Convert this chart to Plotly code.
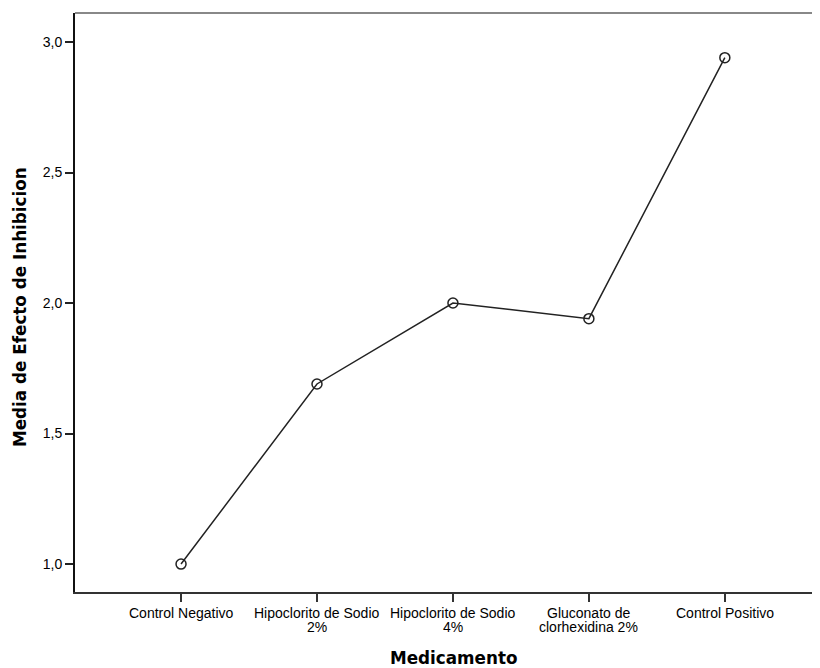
import plotly.graph_objects as go

line1 = ["Control Negativo", "Hipoclorito de Sodio", "Hipoclorito de Sodio",
         "Gluconato de", "Control Positivo"]
line2 = ["", "2%", "4%", "clorhexidina 2%", ""]
means = [1.0, 1.69, 2.0, 1.94, 2.94]
y_ticks = [1.0, 1.5, 2.0, 2.5, 3.0]
x_title = "Medicamento"
y_title = "Media de Efecto de Inhibicion"

x_idx = list(range(len(line1)))
# page body has an 8px margin; figure is sized to fit the window
W, H = 812, 660
ML, MT, MB = 67, 5, 76
PLOT_H = H - MT - MB
PLOT_W = W - ML

fig = go.Figure()
fig.add_trace(go.Scatter(
    x=x_idx, y=means, mode="lines+markers",
    line=dict(color="#222222", width=1.5),
    marker=dict(symbol="circle-open", size=10, color="#222222", line=dict(width=1.5)),
    showlegend=False, hoverinfo="skip"))

fig.update_layout(
    width=W, height=H,
    margin=dict(l=ML, r=0, t=MT, b=MB, autoexpand=False),
    paper_bgcolor="white", plot_bgcolor="white",
    separators=",.",
    font=dict(family="Liberation Sans, Arial, sans-serif", color="#000000", size=14),
    xaxis=dict(
        range=[-0.78, 4.70], automargin=False,
        tickmode="array", tickvals=x_idx, ticktext=[""] * len(x_idx),
        ticks="outside", ticklen=8, tickwidth=2, tickcolor="#333333",
        showline=True, linecolor="#333333", linewidth=2,
        showgrid=False, zeroline=False,
    ),
    yaxis=dict(
        range=[0.893, 3.111], automargin=False,
        tickmode="array", tickvals=y_ticks, tickformat=".1f",
        ticks="outside", ticklen=8, tickwidth=2, tickcolor="#222222",
        ticklabelstandoff=0,
        showline=True, linecolor="#111111", linewidth=2,
        showgrid=False, zeroline=False,
        tickfont=dict(size=14, family="Liberation Sans, Arial, sans-serif"),
    ),
)

# category labels (two lines each, tight spacing)
for xi, a, b in zip(x_idx, line1, line2):
    fig.add_annotation(x=xi, xref="x", y=-21 / PLOT_H, yref="paper",
                       text=a, showarrow=False, xanchor="center", yanchor="middle",
                       font=dict(size=14))
    if b:
        fig.add_annotation(x=xi, xref="x", y=-35 / PLOT_H, yref="paper",
                           text=b, showarrow=False, xanchor="center", yanchor="middle",
                           font=dict(size=14))

fig.add_annotation(x=379 / PLOT_W, xref="paper", y=-66 / PLOT_H, yref="paper",
                   text="<b>%s</b>" % x_title, showarrow=False,
                   xanchor="center", yanchor="middle",
                   font=dict(size=16.8, family="DejaVu Sans, sans-serif"))
fig.add_annotation(x=-55 / PLOT_W, xref="paper", y=1 - 294 / PLOT_H, yref="paper",
                   text="<b>%s</b>" % y_title, showarrow=False, textangle=-90,
                   xanchor="center", yanchor="middle",
                   font=dict(size=16.8, family="DejaVu Sans, sans-serif"))

fig.add_shape(type="line", xref="paper", yref="paper", x0=0, x1=1, y0=1, y1=1,
              line=dict(color="#888888", width=2))

fig.write_html("out.html")
